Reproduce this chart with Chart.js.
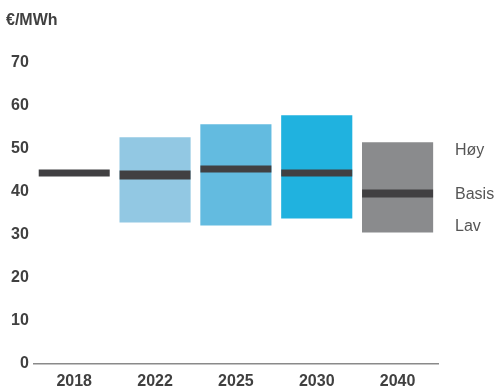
<!DOCTYPE html>
<html>
<head>
<meta charset="utf-8">
<script src="https://cdn.jsdelivr.net/npm/chart.js@4/dist/chart.umd.min.js"></script>
<style>
  html, body { margin: 0; padding: 0; background: #fff; }
  #wrap { width: 497px; height: 388px; }
</style>
</head>
<body>
<div id="wrap"><canvas id="priceChart"></canvas></div>
<script>
// data
const years = ['2018', '2022', '2025', '2030', '2040'];
const high = [null, 52.6, 55.6, 57.7, 51.4];
const low = [null, 32.8, 32.1, 33.7, 30.5];
const basis = [44.3, 43.8, 45.2, 44.3, 39.5];
const sideLabels = ['Høy', 'Basis', 'Lav'];

const boxColors = ['rgba(0,0,0,0)', '#92C8E3', '#63BBE0', '#20B2DF', '#8A8B8D'];
const lineWidths = [7, 9, 7, 7, 8];
const FONT = "'Liberation Sans', Arial, Helvetica, sans-serif";

// labels on the right, tied to last box
const sideLabelPlugin = {
    id: 'sideLabels',
    afterDatasetsDraw(chart) {
        const ctx = chart.ctx;
        const y = chart.scales.y;
        const last = years.length - 1;
        const x = chart.chartArea.right + 17;
        ctx.save();
        ctx.font = '16px ' + FONT;
        ctx.fillStyle = '#555';
        ctx.textAlign = 'left';
        ctx.textBaseline = 'top';
        ctx.fillText(sideLabels[0], x, y.getPixelForValue(high[last]));
        ctx.textBaseline = 'middle';
        ctx.fillText(sideLabels[1], x, y.getPixelForValue(basis[last]) + 1);
        ctx.textBaseline = 'alphabetic';
        ctx.fillText(sideLabels[2], x, y.getPixelForValue(low[last]) - 1);
        ctx.restore();
    }
};

var ctx = document.getElementById('priceChart').getContext('2d');
var priceChart = new Chart(ctx, {
    type: 'bar',
    data: {
        labels: years,
        datasets: [{
            type: 'bar',
            data: years.map((_, i) => high[i] == null ? null : [low[i], high[i]]),
            backgroundColor: boxColors,
            barPercentage: 0.88,
            categoryPercentage: 1,
            order: 2
        }, {
            type: 'line',
            data: basis,
            showLine: false,
            pointStyle: 'line',
            pointRadius: 35.5,
            pointHoverRadius: 35.5,
            pointBorderWidth: lineWidths,
            pointHoverBorderWidth: lineWidths,
            pointBorderColor: '#414042',
            clip: false,
            order: 1
        }]
    },
    options: {
        responsive: true,
        maintainAspectRatio: false,
        animation: false,
        events: [],
        layout: { autoPadding: false, padding: { left: 6, right: 59, top: 0, bottom: -11 } },
        plugins: {
            legend: { display: false },
            tooltip: { enabled: false },
            title: {
                display: true,
                text: '€/MWh',
                align: 'start',
                color: '#404040',
                font: { family: FONT, size: 16, weight: 'bold' },
                padding: { top: 11, bottom: 32 }
            }
        },
        scales: {
            x: {
                offset: true,
                grid: { display: false, drawTicks: false },
                border: { display: true, color: '#8a8a8a', width: 1.5 },
                ticks: {
                    color: '#404040',
                    padding: 8,
                    font: { family: FONT, size: 16, weight: 'bold' }
                }
            },
            y: {
                min: 0,
                max: 70,
                grid: { display: false, drawTicks: false },
                border: { display: false },
                ticks: {
                    stepSize: 10,
                    color: '#404040',
                    padding: 5,
                    font: { family: FONT, size: 16, weight: 'bold' }
                }
            }
        }
    },
    plugins: [sideLabelPlugin]
});
</script>
</body>
</html>
